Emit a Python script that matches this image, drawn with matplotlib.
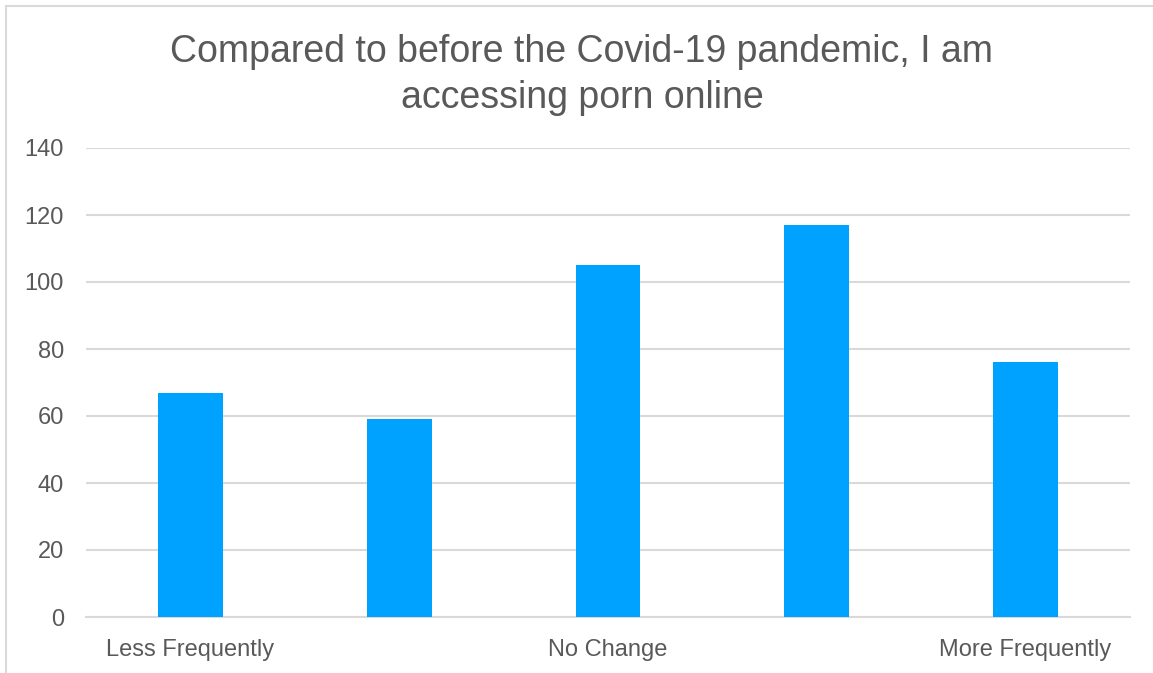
import matplotlib
matplotlib.use("Agg")
import matplotlib.pyplot as plt
from matplotlib.patches import Rectangle

categories = ["Less Frequently", "", "No Change", "", "More Frequently"]
values = [67, 59, 105, 117, 76]
y_ticks = [0, 20, 40, 60, 80, 100, 120, 140]
title = "Compared to before the Covid-19 pandemic, I am\naccessing porn online"

TEXT = "#595959"
GRID = "#d9d9d9"
BAR = "#00a2ff"

plt.rcParams["font.family"] = ["Liberation Sans", "DejaVu Sans"]

W, H = 1153, 673
fig = plt.figure(figsize=(W / 100, H / 100), dpi=100)
ax = fig.add_axes([86 / W, 1 - 617 / H, (1130 - 86) / W, (617 - 148) / H])

x = range(len(values))
ax.bar(x, values, width=0.31, color=BAR, zorder=3)

ax.set_xlim(-0.5, len(values) - 0.5)
ax.set_ylim(0, 140)
ax.set_yticks(y_ticks)
ax.set_yticklabels([str(t) for t in y_ticks])
ax.set_xticks(list(x))
ax.set_xticklabels(categories)

ax.grid(axis="y", color=GRID, linewidth=1.5, zorder=0)
for s in ["top", "right", "left"]:
    ax.spines[s].set_visible(False)
ax.spines["bottom"].set_color(GRID)
ax.spines["bottom"].set_linewidth(1.5)
ax.tick_params(axis="both", length=0, labelsize=17, colors=TEXT)
ax.tick_params(axis="y", pad=16)
ax.tick_params(axis="x", pad=16)

fig.text(582 / W, 1 - 75 / H, title, ha="center", va="center",
         fontsize=27, color=TEXT, linespacing=1.33)

# thin frame around the chart area
fig.add_artist(Rectangle((6 / W, -0.01), 1.2, 1 - 6 / H + 0.01,
                         transform=fig.transFigure, fill=False,
                         edgecolor=GRID, linewidth=1.5))

fig.savefig("out.png", dpi=100)
